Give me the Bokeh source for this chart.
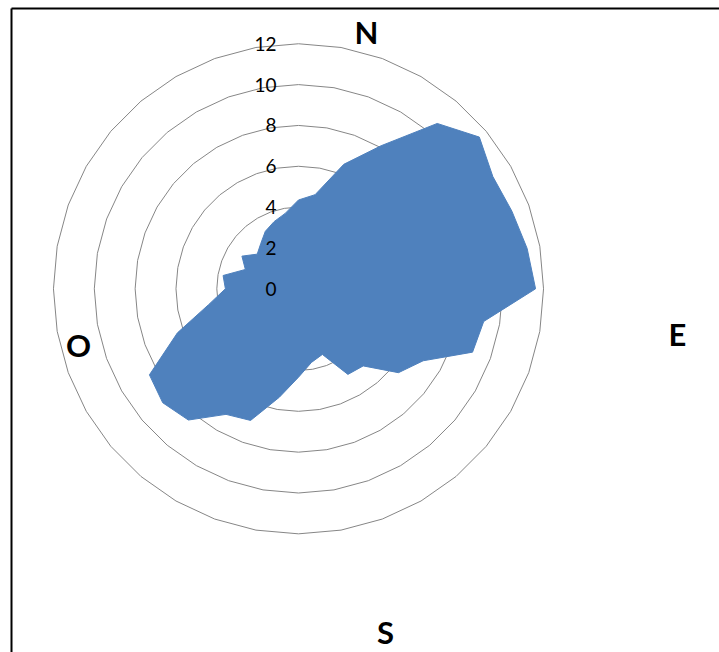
import numpy as np
from bokeh.plotting import figure
from bokeh.models import Range1d, ColumnDataSource
from bokeh.embed import file_html
from bokeh.resources import INLINE
from bokeh.core.properties import value

# ---- data ----
bearings = list(range(0, 360, 10))  # degrees clockwise from North
values = [4.35, 4.68, 6.49, 8.09, 10.57, 11.56, 10.99, 11.12, 11.37, 11.61,
          9.21, 9.07, 7.05, 6.39, 4.93, 4.84, 3.42, 3.66, 4.33, 5.39,
          6.86, 7.10, 8.39, 8.68, 8.43, 6.31, 4.47, 3.58, 3.75, 2.77,
          3.20, 2.64, 2.88, 3.25, 3.50, 3.75]
ring_values = [2, 4, 6, 8, 10, 12]
tick_values = [0, 2, 4, 6, 8, 10, 12]
tick_labels = ["0", "2", "4", "6", "8", "10", "12"]
compass_labels = ["N", "E", "S", "O"]

# ---- layout (pixels of the page) ----
W, H = 719, 652
PX = 20.42            # pixels per unit
CX, CY = 298.0, 288.3  # centre in page pixels
FILL = "#4F81BD"

def dx(px):
    return (px - CX) / PX

def dy(py):
    return (CY - py) / PX

p = figure(width=W, height=H, output_backend="svg", toolbar_location=None,
           x_range=Range1d(dx(0), dx(W)), y_range=Range1d(dy(H), dy(0)),
           x_axis_location=None, y_axis_location=None, min_border=0,
           background_fill_color="white", border_fill_color="white")
p.outline_line_color = None
p.grid.visible = False

theta = np.deg2rad(90 - np.array(bearings, dtype=float))

# grid rings (polygons with one vertex per category)
xs, ys = [], []
for r in ring_values:
    gx = list(r * np.cos(theta)) + [r * np.cos(theta[0])]
    gy = list(r * np.sin(theta)) + [r * np.sin(theta[0])]
    xs.append(gx)
    ys.append(gy)
p.multi_line(xs, ys, line_color="#868686", line_width=1)

# filled series
v = np.array(values)
p.patch(list(v * np.cos(theta)), list(v * np.sin(theta)),
        fill_color=FILL, line_color=FILL, line_width=1)

# radial tick labels
src = ColumnDataSource(dict(x=[0] * len(tick_values), y=tick_values, t=tick_labels))
p.text(x="x", y="y", text="t", source=src, x_offset=-22,
       text_align="right", text_baseline="middle",
       text_font=value("Lato"), text_font_size="19px", text_color="black")

# compass labels
cpos = [(366, 31), (677, 333), (385, 631), (78, 344)]
p.text(x=[dx(a) for a, b in cpos], y=[dy(b) for a, b in cpos], text=compass_labels,
       text_align="center", text_baseline="middle",
       text_font=value("Lato"), text_font_size="31px", text_font_style="bold",
       text_color="black")

# chart area border
p.line([dx(11), dx(11)], [dy(8), dy(H)], line_color="black", line_width=2)
p.line([dx(11), dx(W)], [dy(8), dy(8)], line_color="black", line_width=2)

open("out.html", "w").write(file_html(p, INLINE))
